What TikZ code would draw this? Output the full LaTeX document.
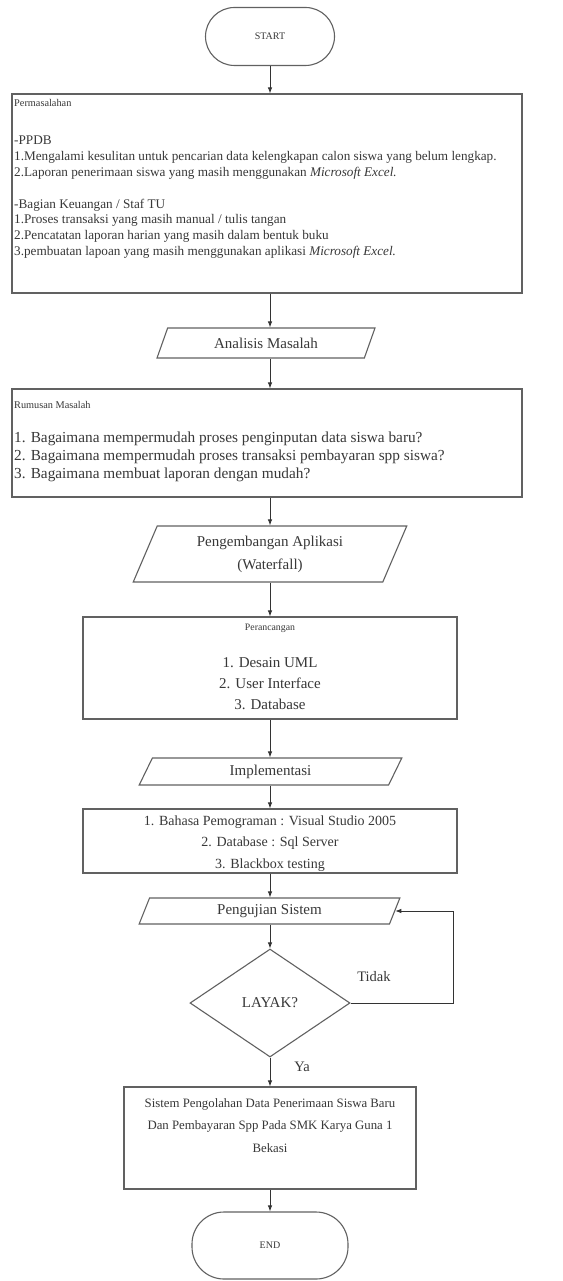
\documentclass[tikz,border=0pt]{standalone}
\usepackage{fontspec}
\setmainfont{Liberation Serif}
\usetikzlibrary{shapes.geometric,arrows.meta}
\definecolor{linecol}{gray}{0.38}
\definecolor{txtcol}{gray}{0.22}
\begin{document}
\begin{tikzpicture}[x=1pt,y=-1pt,
  every node/.style={text=txtcol},
  lin/.style={draw=linecol,line width=1.1pt},
  arr/.style={draw=black!80,line width=0.9pt,-{Latex[length=6pt,width=4.5pt]}},
  term/.style={lin,rectangle,rounded corners=29pt,inner sep=0pt,font=\fontsize{10}{12}\selectfont},
  boxx/.style={lin,rectangle,inner sep=0pt},
  para/.style={lin,trapezium,trapezium stretches=true,inner sep=0pt,
     trapezium left angle=#1,trapezium right angle=180-#1},
  txt/.style={inner sep=0pt}]
\useasboundingbox[fill=white] (0,0) rectangle (562,1281);

% nodes
\node[term,minimum width=129pt,minimum height=58pt] (start) at (270,36.5) {START};

\node[boxx,minimum width=510pt,minimum height=199pt] (perm) at (267,193.5) {};
\node[txt,anchor=west,font=\fontsize{10.3}{12}\selectfont] (permt) at (14,103) {Permasalahan};
\node[txt,anchor=north west,align=left,font=\fontsize{13.2}{15.8}\selectfont] (permx) at (14,136)
 {-PPDB\\
  1.Mengalami kesulitan untuk pencarian data kelengkapan calon siswa yang belum lengkap.\\
  2.Laporan penerimaan siswa yang masih menggunakan \textit{Microsoft Excel.}\\[15.8pt]
  -Bagian Keuangan / Staf TU\\
  1.Proses transaksi yang masih manual / tulis tangan\\
  2.Pencatatan laporan harian yang masih dalam bentuk buku\\
  3.pembuatan lapoan yang masih menggunakan aplikasi \textit{Microsoft Excel.}};

\node[para=62,minimum width=218pt,minimum height=30pt,font=\fontsize{15}{18}\selectfont] (ana) at (266,343) {Analisis Masalah};

\node[boxx,minimum width=510pt,minimum height=108pt] (rum) at (267,443) {};
\node[txt,anchor=west,font=\fontsize{10.3}{12}\selectfont] (rumt) at (14,405) {Rumusan Masalah};
\node[txt,anchor=north west,align=left,font=\fontsize{15.3}{18}\selectfont] (rumx) at (14,432)
 {1. Bagaimana mempermudah proses penginputan data siswa baru?\\
  2. Bagaimana mempermudah proses transaksi pembayaran spp siswa?\\
  3. Bagaimana membuat laporan dengan mudah?};

\node[para=67,minimum width=274pt,minimum height=56pt,align=center,font=\fontsize{15}{23}\selectfont] (dev) at (270,554)
 {Pengembangan Aplikasi\\(Waterfall)};

\node[boxx,minimum width=374pt,minimum height=102pt] (ran) at (270,668) {};
\node[txt,font=\fontsize{9.8}{11}\selectfont] (rant) at (270,628) {Perancangan};
\node[txt,align=center,font=\fontsize{15}{21}\selectfont] (ranx) at (270,684)
 {1. Desain UML\\2. User Interface\\3. Database};

\node[para=71.5,minimum width=263pt,minimum height=27pt,font=\fontsize{15}{18}\selectfont] (imp) at (270.5,771.5) {Implementasi};

\node[boxx,minimum width=374pt,minimum height=64pt] (impb) at (270,841) {};
\node[txt,align=center,font=\fontsize{14}{21.5}\selectfont] (impx) at (270,843.5)
 {1. Bahasa Pemograman : Visual Studio 2005\\2. Database : Sql Server\\3. Blackbox testing};

\node[para=71,minimum width=261pt,minimum height=26pt,font=\fontsize{15}{18}\selectfont] (uji) at (269.5,911) {Pengujian Sistem};

\node[lin,diamond,inner sep=0pt,minimum width=160pt,minimum height=108pt,font=\fontsize{15}{18}\selectfont] (dia) at (270,1003) {LAYAK?};

\node[boxx,minimum width=292pt,minimum height=102pt] (fin) at (270,1138) {};
\node[txt,align=center,font=\fontsize{12.8}{22.5}\selectfont] (finx) at (270,1125.5)
 {Sistem Pengolahan Data Penerimaan Siswa Baru\\Dan Pembayaran Spp Pada SMK Karya Guna 1\\Bekasi};

\node[term,minimum width=156pt,minimum height=67pt,rounded corners=32pt] (end) at (270,1245.5) {END};

\node[txt,font=\fontsize{14.5}{17}\selectfont] (tidak) at (374,977) {Tidak};
\node[txt,font=\fontsize{14.5}{17}\selectfont] (ya) at (302,1067) {Ya};
\coordinate (loop) at (453,1003);

% connectors
\draw[arr] (start.south) -- (start.south |- perm.north);
\draw[arr] (perm.south -| start) -- (ana.north -| start);
\draw[arr] (ana.south -| start) -- (rum.north -| start);
\draw[arr] (rum.south -| start) -- (dev.north -| start);
\draw[arr] (dev.south -| start) -- (ran.north -| start);
\draw[arr] (ran.south -| start) -- (imp.north -| start);
\draw[arr] (imp.south -| start) -- (impb.north -| start);
\draw[arr] (impb.south -| start) -- (uji.north -| start);
\draw[arr] (uji.south -| start) -- (dia.north);
\draw[arr] (dia.south) -- (fin.north -| dia);
\draw[arr] (fin.south -| start) -- (end.north);
\draw[arr] (dia.east) -- (loop) |- (uji.east);
\end{tikzpicture}
\end{document}
